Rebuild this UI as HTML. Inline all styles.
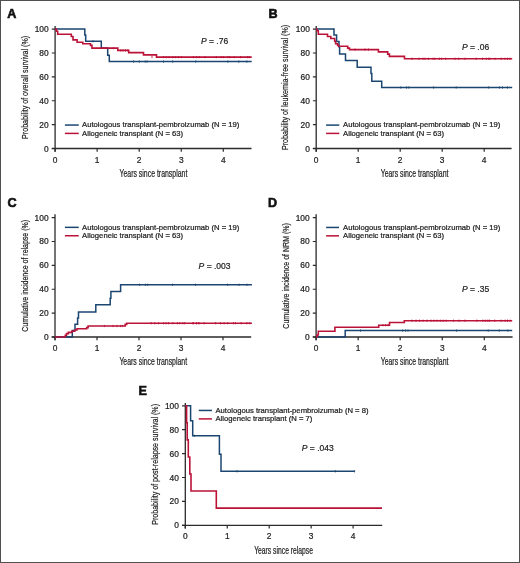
<!DOCTYPE html>
<html><head><meta charset="utf-8"><style>
html,body{margin:0;padding:0;background:#fff;}
svg{display:block;will-change:transform;}
text{font-family:"Liberation Sans", sans-serif;fill:#222;stroke:#222;stroke-width:0.22px;}
</style></head><body>
<svg width="520" height="563" viewBox="0 0 520 563">
<rect x="0" y="0" width="520" height="563" fill="#fff"/>
<text x="7.2" y="18" font-size="12.6" font-weight="bold" style="fill:#111;stroke:#111;stroke-width:0.6px">A</text>
<path d="M55.1,26V151.7M51.800000000000004,148.5H251.5" stroke="#2b2b2b" stroke-width="1.3" fill="none"/>
<path d="M51.80,148.50H55.1M51.80,124.62H55.1M51.80,100.74H55.1M51.80,76.86H55.1M51.80,52.98H55.1M51.80,29.10H55.1M55.10,148.5V151.70M97.15,148.5V151.70M139.20,148.5V151.70M181.25,148.5V151.70M223.30,148.5V151.70" stroke="#2b2b2b" stroke-width="1.2" fill="none"/>
<text x="48.70" y="151.50" text-anchor="end" font-size="8.4">0</text>
<text x="48.70" y="127.62" text-anchor="end" font-size="8.4">20</text>
<text x="48.70" y="103.74" text-anchor="end" font-size="8.4">40</text>
<text x="48.70" y="79.86" text-anchor="end" font-size="8.4">60</text>
<text x="48.70" y="55.98" text-anchor="end" font-size="8.4">80</text>
<text x="48.70" y="32.10" text-anchor="end" font-size="8.4">100</text>
<text x="55.10" y="162.50" text-anchor="middle" font-size="8.4">0</text>
<text x="97.15" y="162.50" text-anchor="middle" font-size="8.4">1</text>
<text x="139.20" y="162.50" text-anchor="middle" font-size="8.4">2</text>
<text x="181.25" y="162.50" text-anchor="middle" font-size="8.4">3</text>
<text x="223.30" y="162.50" text-anchor="middle" font-size="8.4">4</text>
<text transform="translate(27.60,138.90) rotate(-90)" x="0" y="0" font-size="9.9" textLength="103.00" lengthAdjust="spacingAndGlyphs">Probability of overall survival (%)</text>
<text x="119.50" y="176.60" font-size="10.2" textLength="67.80" lengthAdjust="spacingAndGlyphs">Years since transplant</text>
<path d="M64.9,125.05H78.75" stroke="#1a4671" stroke-width="1.5"/>
<path d="M64.9,133.4H78.75" stroke="#bb1238" stroke-width="1.5"/>
<text x="82.1" y="127.25" font-size="7.67">Autologous transplant-pembroizumab (N = 19)</text>
<text x="82.1" y="135.60" font-size="7.67">Allogeneic transplant (N = 63)</text>
<text x="201" y="44.1" font-size="8.5"><tspan font-style="italic">P</tspan> = .76</text>
<path d="M55.10,29.10H84.80V34.90H85.70V41.30H101.30V48.10H107.70V55.20H109.30V61.60H251.70" fill="none" stroke="#1a4671" stroke-width="1.5"/>
<path d="M55.10,29.10H56.40V31.30H57.70V34.30H71.30V36.50H73.00V39.90H77.10V42.30H82.80V43.75H90.50V45.40H92.00V48.10H117.80V50.40H128.70V52.60H143.50V54.90H156.50V57.10H251.70" fill="none" stroke="#bb1238" stroke-width="1.6"/>
<path d="M113.50,47.00v2.20" stroke="#bb1238" stroke-width="0.9" fill="none"/>
<path d="M120.70,49.30v2.20M123.00,49.30v2.20M125.50,49.30v2.20M127.90,49.30v2.20" stroke="#bb1238" stroke-width="0.9" fill="none"/>
<path d="M152.00,56.00v2.20M163.50,56.00v2.20M166.30,56.00v2.20M169.20,56.00v2.20M172.70,56.00v2.20M175.60,56.00v2.20M178.50,56.00v2.20M181.30,56.00v2.20M193.40,56.00v2.20M196.30,56.00v2.20M199.20,56.00v2.20M204.80,56.00v2.20M216.30,56.00v2.20M221.10,56.00v2.20M223.40,56.00v2.20M227.90,56.00v2.20M229.70,56.00v2.20M234.20,56.00v2.20M240.60,56.00v2.20M247.50,56.00v2.20M249.20,56.00v2.20" stroke="#bb1238" stroke-width="0.9" fill="none"/>
<path d="M93.00,40.20v2.20" stroke="#1a4671" stroke-width="0.9" fill="none"/>
<path d="M133.50,60.50v2.20M139.40,60.50v2.20M145.20,60.50v2.20M147.10,60.50v2.20M163.50,60.50v2.20M172.70,60.50v2.20M195.70,60.50v2.20M227.90,60.50v2.20M238.80,60.50v2.20M246.90,60.50v2.20" stroke="#1a4671" stroke-width="0.9" fill="none"/>
<text x="268.4" y="17.8" font-size="12.6" font-weight="bold" style="fill:#111;stroke:#111;stroke-width:0.6px">B</text>
<path d="M316.2,26V151.7M312.9,148.5H511.6" stroke="#2b2b2b" stroke-width="1.3" fill="none"/>
<path d="M312.90,148.50H316.2M312.90,124.62H316.2M312.90,100.74H316.2M312.90,76.86H316.2M312.90,52.98H316.2M312.90,29.10H316.2M316.20,148.5V151.70M358.20,148.5V151.70M400.20,148.5V151.70M442.20,148.5V151.70M484.20,148.5V151.70" stroke="#2b2b2b" stroke-width="1.2" fill="none"/>
<text x="309.80" y="151.50" text-anchor="end" font-size="8.4">0</text>
<text x="309.80" y="127.62" text-anchor="end" font-size="8.4">20</text>
<text x="309.80" y="103.74" text-anchor="end" font-size="8.4">40</text>
<text x="309.80" y="79.86" text-anchor="end" font-size="8.4">60</text>
<text x="309.80" y="55.98" text-anchor="end" font-size="8.4">80</text>
<text x="309.80" y="32.10" text-anchor="end" font-size="8.4">100</text>
<text x="316.20" y="162.50" text-anchor="middle" font-size="8.4">0</text>
<text x="358.20" y="162.50" text-anchor="middle" font-size="8.4">1</text>
<text x="400.20" y="162.50" text-anchor="middle" font-size="8.4">2</text>
<text x="442.20" y="162.50" text-anchor="middle" font-size="8.4">3</text>
<text x="484.20" y="162.50" text-anchor="middle" font-size="8.4">4</text>
<text transform="translate(288.40,150.00) rotate(-90)" x="0" y="0" font-size="9.9" textLength="125.10" lengthAdjust="spacingAndGlyphs">Probability of leukemia-free survival (%)</text>
<text x="380.70" y="176.70" font-size="10.2" textLength="67.70" lengthAdjust="spacingAndGlyphs">Years since transplant</text>
<path d="M326.1,125.1H339.3" stroke="#1a4671" stroke-width="1.5"/>
<path d="M326.1,133.4H339.3" stroke="#bb1238" stroke-width="1.5"/>
<text x="343.1" y="127.30" font-size="7.67">Autologous transplant-pembroizumab (N = 19)</text>
<text x="343.1" y="135.60" font-size="7.67">Allogeneic transplant (N = 63)</text>
<text x="462" y="50.2" font-size="8.5"><tspan font-style="italic">P</tspan> = .06</text>
<path d="M316.20,29.10H334.00V34.90H336.60V41.60H339.00V47.00H339.60V54.00H345.50V60.60H357.20V67.30H371.00V73.50H371.80V81.20H381.70V87.50H512.20" fill="none" stroke="#1a4671" stroke-width="1.5"/>
<path d="M316.20,29.10H316.90V30.80H318.30V34.30H327.50V36.50H330.80V38.50H334.70V41.30H335.60V43.75H337.60V45.20H338.50V46.30H347.70V48.10H349.50V49.60H378.40V51.90H387.70V54.10H389.40V56.40H404.50V58.80H512.20" fill="none" stroke="#bb1238" stroke-width="1.6"/>
<path d="M355.00,48.50v2.20M365.00,48.50v2.20M368.50,48.50v2.20" stroke="#bb1238" stroke-width="0.9" fill="none"/>
<path d="M412.00,57.70v2.20M419.00,57.70v2.20M423.00,57.70v2.20M425.00,57.70v2.20M428.40,57.70v2.20M433.00,57.70v2.20M434.80,57.70v2.20M439.40,57.70v2.20M441.70,57.70v2.20M445.70,57.70v2.20M455.00,57.70v2.20M458.70,57.70v2.20M465.00,57.70v2.20M476.20,57.70v2.20M482.50,57.70v2.20M486.20,57.70v2.20M488.70,57.70v2.20M490.00,57.70v2.20M495.00,57.70v2.20M501.20,57.70v2.20M505.00,57.70v2.20M507.50,57.70v2.20M510.00,57.70v2.20" stroke="#bb1238" stroke-width="0.9" fill="none"/>
<path d="M400.80,86.40v2.20M406.50,86.40v2.20M408.80,86.40v2.20M433.60,86.40v2.20M456.20,86.40v2.20M488.70,86.40v2.20M499.40,86.40v2.20M502.50,86.40v2.20M507.50,86.40v2.20" stroke="#1a4671" stroke-width="0.9" fill="none"/>
<text x="7.6" y="206.7" font-size="12.6" font-weight="bold" style="fill:#111;stroke:#111;stroke-width:0.6px">C</text>
<path d="M55.0,214.3V340.2M51.7,337.0H251.2" stroke="#2b2b2b" stroke-width="1.3" fill="none"/>
<path d="M51.70,337.00H55.0M51.70,313.12H55.0M51.70,289.24H55.0M51.70,265.36H55.0M51.70,241.48H55.0M51.70,217.60H55.0M55.00,337.0V340.20M97.00,337.0V340.20M139.00,337.0V340.20M181.00,337.0V340.20M223.00,337.0V340.20" stroke="#2b2b2b" stroke-width="1.2" fill="none"/>
<text x="48.60" y="340.00" text-anchor="end" font-size="8.4">0</text>
<text x="48.60" y="316.12" text-anchor="end" font-size="8.4">20</text>
<text x="48.60" y="292.24" text-anchor="end" font-size="8.4">40</text>
<text x="48.60" y="268.36" text-anchor="end" font-size="8.4">60</text>
<text x="48.60" y="244.48" text-anchor="end" font-size="8.4">80</text>
<text x="48.60" y="220.60" text-anchor="end" font-size="8.4">100</text>
<text x="55.00" y="351.00" text-anchor="middle" font-size="8.4">0</text>
<text x="97.00" y="351.00" text-anchor="middle" font-size="8.4">1</text>
<text x="139.00" y="351.00" text-anchor="middle" font-size="8.4">2</text>
<text x="181.00" y="351.00" text-anchor="middle" font-size="8.4">3</text>
<text x="223.00" y="351.00" text-anchor="middle" font-size="8.4">4</text>
<text transform="translate(27.60,331.70) rotate(-90)" x="0" y="0" font-size="9.9" textLength="111.70" lengthAdjust="spacingAndGlyphs">Cumulative incidence of relapse (%)</text>
<text x="119.40" y="365.00" font-size="10.2" textLength="67.70" lengthAdjust="spacingAndGlyphs">Years since transplant</text>
<path d="M64.9,227.35H78.75" stroke="#1a4671" stroke-width="1.5"/>
<path d="M64.9,235.75H78.75" stroke="#bb1238" stroke-width="1.5"/>
<text x="82.1" y="229.55" font-size="7.67">Autologous transplant-pembroizumab (N = 19)</text>
<text x="82.1" y="237.95" font-size="7.67">Allogeneic transplant (N = 63)</text>
<text x="198.6" y="268.5" font-size="8.5"><tspan font-style="italic">P</tspan> = .003</text>
<path d="M55.00,337.00H72.30V330.60H75.00V324.30H77.60V318.00H78.50V312.00H95.80V304.80H110.20V298.20H110.90V291.60H120.60V284.80H251.90" fill="none" stroke="#1a4671" stroke-width="1.5"/>
<path d="M55.00,337.00H65.30V335.20H66.50V333.60H68.40V332.40H71.80V331.20H74.70V330.00H77.00V328.80H86.70V327.60H88.10V326.00H125.20V324.40H126.70V323.20H251.90" fill="none" stroke="#bb1238" stroke-width="1.6"/>
<path d="M104.40,324.90v2.20M113.00,324.90v2.20M117.10,324.90v2.20M120.60,324.90v2.20M122.30,324.90v2.20" stroke="#bb1238" stroke-width="0.9" fill="none"/>
<path d="M151.20,322.10v2.20M154.90,322.10v2.20M158.60,322.10v2.20M163.60,322.10v2.20M166.10,322.10v2.20M168.60,322.10v2.20M172.90,322.10v2.20M177.30,322.10v2.20M179.70,322.10v2.20M182.90,322.10v2.20M184.70,322.10v2.20M193.40,322.10v2.20M196.50,322.10v2.20M198.40,322.10v2.20M192.80,322.10v2.20M196.40,322.10v2.20M199.20,322.10v2.20M204.20,322.10v2.20M215.60,322.10v2.20M220.60,322.10v2.20M224.10,322.10v2.20M227.70,322.10v2.20M233.40,322.10v2.20M235.50,322.10v2.20M241.20,322.10v2.20M246.90,322.10v2.20M249.70,322.10v2.20" stroke="#bb1238" stroke-width="0.9" fill="none"/>
<path d="M139.60,283.70v2.20M145.40,283.70v2.20M147.70,283.70v2.20M172.50,283.70v2.20M195.50,283.70v2.20M227.70,283.70v2.20M239.00,283.70v2.20M246.90,283.70v2.20" stroke="#1a4671" stroke-width="0.9" fill="none"/>
<text x="268.1" y="206.7" font-size="12.6" font-weight="bold" style="fill:#111;stroke:#111;stroke-width:0.6px">D</text>
<path d="M316.1,214.3V340.2M312.8,337.0H512.6" stroke="#2b2b2b" stroke-width="1.3" fill="none"/>
<path d="M312.80,337.00H316.1M312.80,313.12H316.1M312.80,289.24H316.1M312.80,265.36H316.1M312.80,241.48H316.1M312.80,217.60H316.1M316.10,337.0V340.20M358.15,337.0V340.20M400.20,337.0V340.20M442.25,337.0V340.20M484.30,337.0V340.20" stroke="#2b2b2b" stroke-width="1.2" fill="none"/>
<text x="309.70" y="340.00" text-anchor="end" font-size="8.4">0</text>
<text x="309.70" y="316.12" text-anchor="end" font-size="8.4">20</text>
<text x="309.70" y="292.24" text-anchor="end" font-size="8.4">40</text>
<text x="309.70" y="268.36" text-anchor="end" font-size="8.4">60</text>
<text x="309.70" y="244.48" text-anchor="end" font-size="8.4">80</text>
<text x="309.70" y="220.60" text-anchor="end" font-size="8.4">100</text>
<text x="316.10" y="351.00" text-anchor="middle" font-size="8.4">0</text>
<text x="358.15" y="351.00" text-anchor="middle" font-size="8.4">1</text>
<text x="400.20" y="351.00" text-anchor="middle" font-size="8.4">2</text>
<text x="442.25" y="351.00" text-anchor="middle" font-size="8.4">3</text>
<text x="484.30" y="351.00" text-anchor="middle" font-size="8.4">4</text>
<text transform="translate(288.50,328.70) rotate(-90)" x="0" y="0" font-size="9.9" textLength="105.60" lengthAdjust="spacingAndGlyphs">Cumulative incidence of NRM (%)</text>
<text x="380.70" y="365.10" font-size="10.2" textLength="67.70" lengthAdjust="spacingAndGlyphs">Years since transplant</text>
<path d="M326.1,227.45H339.0" stroke="#1a4671" stroke-width="1.5"/>
<path d="M326.1,235.85H339.0" stroke="#bb1238" stroke-width="1.5"/>
<text x="343.1" y="229.65" font-size="7.67">Autologous transplant-pembroizumab (N = 19)</text>
<text x="343.1" y="238.05" font-size="7.67">Allogeneic transplant (N = 63)</text>
<text x="462" y="292" font-size="8.5"><tspan font-style="italic">P</tspan> = .35</text>
<path d="M316.10,337.00H345.20V330.60H512.20" fill="none" stroke="#1a4671" stroke-width="1.5"/>
<path d="M316.10,337.00H317.00V335.00H318.30V331.20H334.90V327.20H378.70V325.20H389.50V322.50H404.30V320.70H512.20" fill="none" stroke="#bb1238" stroke-width="1.6"/>
<path d="M383.00,324.10v2.20M385.50,324.10v2.20M388.00,324.10v2.20" stroke="#bb1238" stroke-width="0.9" fill="none"/>
<path d="M412.00,319.60v2.20M416.00,319.60v2.20M419.50,319.60v2.20M423.00,319.60v2.20M427.00,319.60v2.20M431.00,319.60v2.20M434.00,319.60v2.20M437.00,319.60v2.20M440.30,319.60v2.20M443.00,319.60v2.20M446.00,319.60v2.20M453.40,319.60v2.20M459.00,319.60v2.20M465.00,319.60v2.20M476.80,319.60v2.20M482.80,319.60v2.20M485.30,319.60v2.20M487.80,319.60v2.20M489.60,319.60v2.20M494.70,319.60v2.20M501.20,319.60v2.20M505.20,319.60v2.20M507.50,319.60v2.20M510.00,319.60v2.20" stroke="#bb1238" stroke-width="0.9" fill="none"/>
<path d="M360.50,329.50v2.20M402.70,329.50v2.20M405.50,329.50v2.20M408.00,329.50v2.20M456.60,329.50v2.20M488.20,329.50v2.20M499.30,329.50v2.20M507.80,329.50v2.20" stroke="#1a4671" stroke-width="0.9" fill="none"/>
<text x="138.5" y="395.0" font-size="12.6" font-weight="bold" style="fill:#111;stroke:#111;stroke-width:0.6px">E</text>
<path d="M185.3,403.1V528.5M182.0,525.3H382.2" stroke="#2b2b2b" stroke-width="1.3" fill="none"/>
<path d="M182.00,525.30H185.3M182.00,501.40H185.3M182.00,477.50H185.3M182.00,453.60H185.3M182.00,429.70H185.3M182.00,405.80H185.3M185.30,525.3V528.50M227.25,525.3V528.50M269.20,525.3V528.50M311.15,525.3V528.50M353.10,525.3V528.50" stroke="#2b2b2b" stroke-width="1.2" fill="none"/>
<text x="178.90" y="528.30" text-anchor="end" font-size="8.4">0</text>
<text x="178.90" y="504.40" text-anchor="end" font-size="8.4">20</text>
<text x="178.90" y="480.50" text-anchor="end" font-size="8.4">40</text>
<text x="178.90" y="456.60" text-anchor="end" font-size="8.4">60</text>
<text x="178.90" y="432.70" text-anchor="end" font-size="8.4">80</text>
<text x="178.90" y="408.80" text-anchor="end" font-size="8.4">100</text>
<text x="185.30" y="539.30" text-anchor="middle" font-size="8.4">0</text>
<text x="227.25" y="539.30" text-anchor="middle" font-size="8.4">1</text>
<text x="269.20" y="539.30" text-anchor="middle" font-size="8.4">2</text>
<text x="311.15" y="539.30" text-anchor="middle" font-size="8.4">3</text>
<text x="353.10" y="539.30" text-anchor="middle" font-size="8.4">4</text>
<text transform="translate(157.60,524.80) rotate(-90)" x="0" y="0" font-size="9.9" textLength="120.80" lengthAdjust="spacingAndGlyphs">Probability of post-relapse survival (%)</text>
<text x="254.20" y="553.50" font-size="10.2" textLength="58.80" lengthAdjust="spacingAndGlyphs">Years since relapse</text>
<path d="M198.75,410.45H212.0" stroke="#1a4671" stroke-width="1.5"/>
<path d="M198.75,418.9H212.0" stroke="#bb1238" stroke-width="1.5"/>
<text x="215.5" y="412.65" font-size="7.67">Autologous transplant-pembroizumab (N = 8)</text>
<text x="215.5" y="421.10" font-size="7.67">Allogeneic transplant (N = 7)</text>
<text x="301.8" y="450.7" font-size="8.5"><tspan font-style="italic">P</tspan> = .043</text>
<path d="M185.30,405.80H190.60V420.80H192.70V435.80H219.40V454.20H221.00V471.30H354.60" fill="none" stroke="#1a4671" stroke-width="1.5"/>
<path d="M185.30,405.80H186.60V422.80H187.20V439.90H188.30V457.00H189.80V474.00H191.00V491.00H216.30V508.10H382.00" fill="none" stroke="#bb1238" stroke-width="1.6"/>
<path d="M194.30,434.70v2.20" stroke="#1a4671" stroke-width="0.9" fill="none"/>
<path d="M237.00,470.20v2.20M335.30,470.20v2.20M354.60,470.20v2.20" stroke="#1a4671" stroke-width="0.9" fill="none"/>
<rect x="0.5" y="0.5" width="519" height="562" fill="none" stroke="#505050" stroke-width="1"/>
</svg>
</body></html>
